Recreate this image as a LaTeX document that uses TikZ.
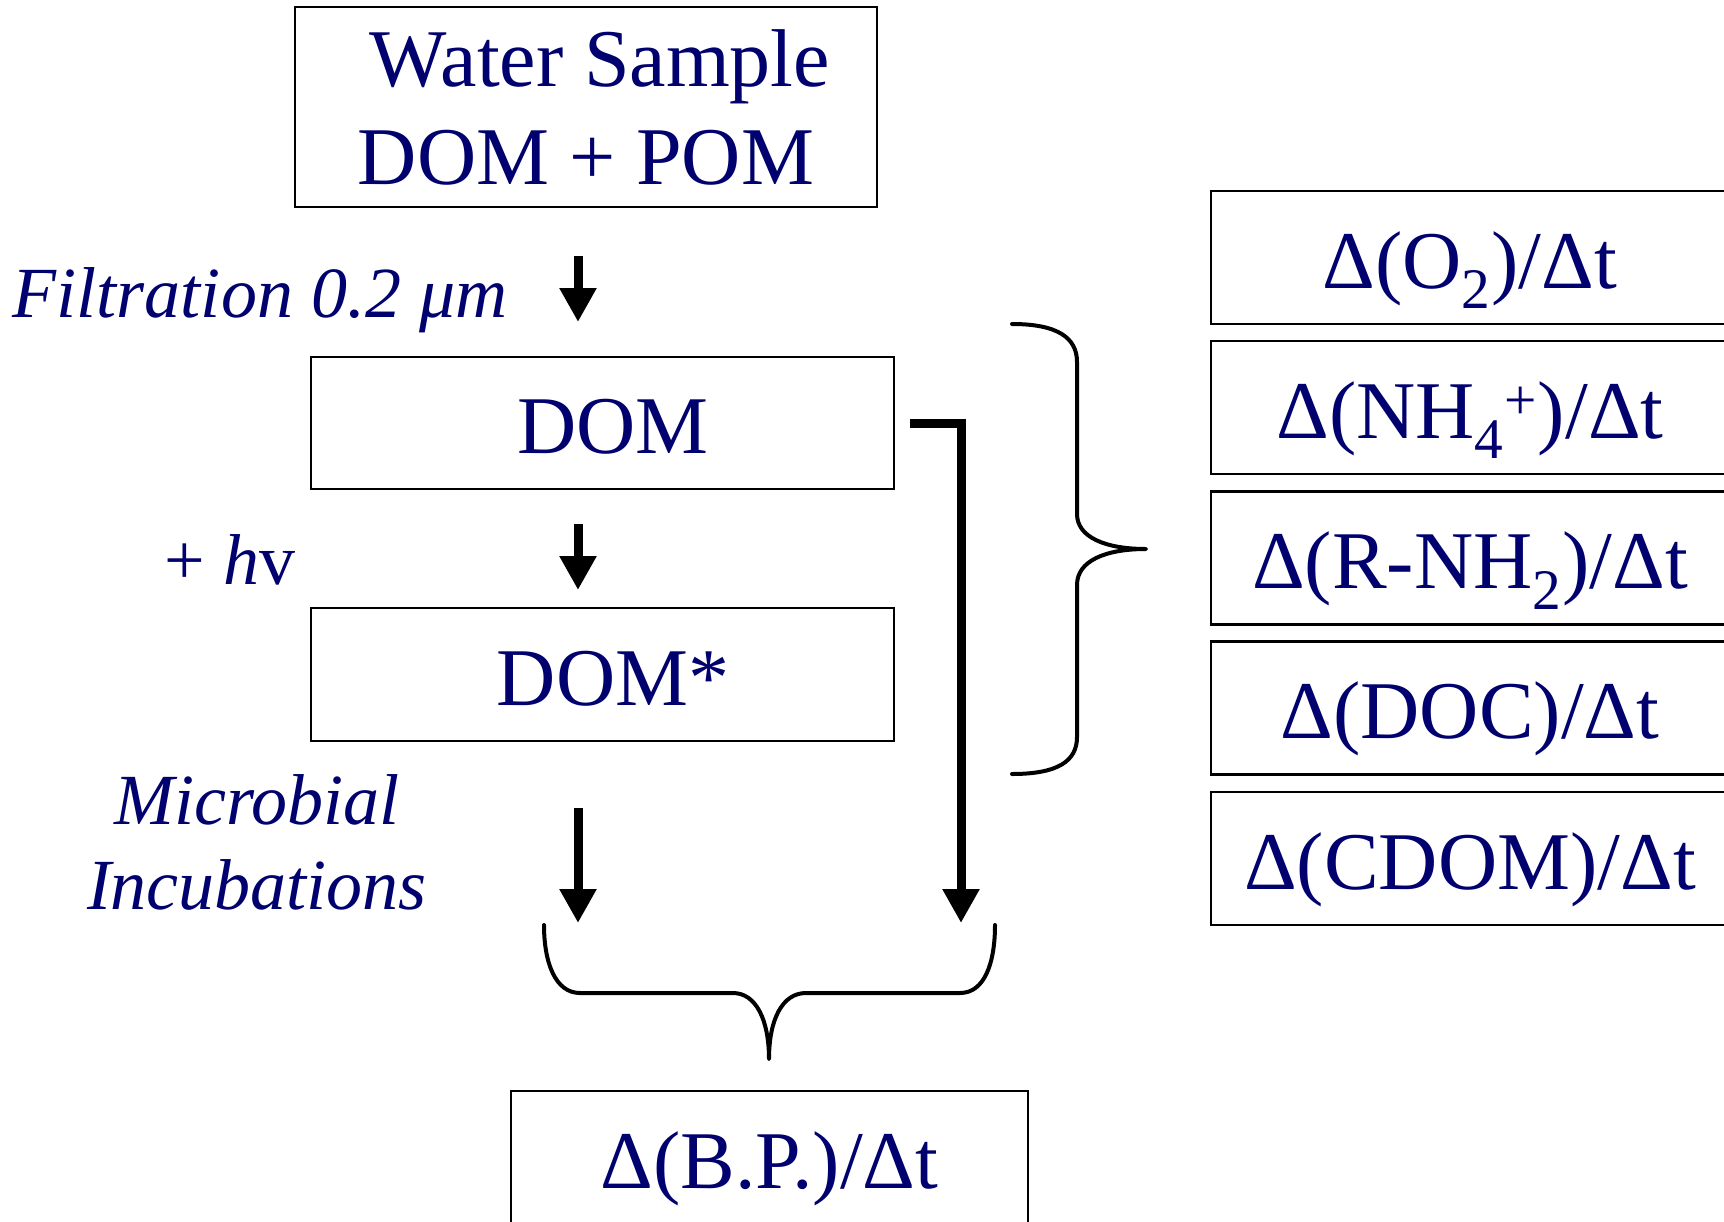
\documentclass[tikz,border=0pt]{standalone}
\usepackage{fontspec}
\setmainfont{Liberation Serif}
\usetikzlibrary{arrows.meta}
\definecolor{navy}{RGB}{0,0,110}
\begin{document}
\begin{tikzpicture}[x=0.5pt,y=-0.5pt,
  box/.style={draw, line width=1.1pt, inner sep=0pt, text=navy, font=\fontsize{41}{49}\selectfont, align=center},
  onebox/.style={box, text height=30.5pt, text depth=0pt},
  lbl/.style={text=navy, font=\fontsize{36}{42.5}\selectfont\itshape, align=center, inner sep=0pt},
  flow/.style={line width=4.5pt, -{Triangle[width=17.5pt,length=17pt]}},
  brace/.style={line width=2pt, line cap=round, line join=round}]
\useasboundingbox (0,0) rectangle (1724,1221);

% left column boxes
\node[box, minimum width=291pt, minimum height=100pt] (ws) at (586,107) {\raisebox{-2pt}{\hspace*{14pt}Water Sample}\\\raisebox{-2pt}{DOM + POM}};
\node[onebox, minimum width=291.5pt, minimum height=66pt] (dom) at (602.5,423) {\hspace*{10.5pt}DOM};
\node[onebox, minimum width=291.5pt, minimum height=66.5pt] (doms) at (602.5,674.5) {\hspace*{10.5pt}DOM*};
\node[onebox, text height=28.5pt, minimum width=258.5pt, minimum height=69pt] (bp) at (769.5,1160) {Δ(B.P.)/Δt};

% right column boxes
\node[onebox, minimum width=259pt, minimum height=66.5pt] (o2) at (1470,257.5) {Δ(O\textsubscript{2})/Δt};
\node[onebox, minimum width=259pt, minimum height=66.5pt] (nh4) at (1470,407.5) {Δ(NH\textsubscript{4}\textsuperscript{+})/Δt};
\node[onebox, minimum width=259pt, minimum height=66.5pt] (rnh2) at (1470,558) {Δ(R-NH\textsubscript{2})/Δt};
\node[onebox, minimum width=259pt, minimum height=66.5pt] (doc) at (1470,708) {Δ(DOC)/Δt};
\node[onebox, minimum width=259pt, minimum height=66.5pt] (cdom) at (1470,858.5) {Δ(CDOM)/Δt};

% labels
\node[lbl, anchor=base] (filt) at (260,317) {Filtration 0.2 μm};
\node[lbl, anchor=base] (hv) at (230,584) {\upshape + \textit{h}v};
\node[lbl, anchor=base] (micro) at (257,909) {Microbial\\Incubations};

% arrows
\coordinate (a1s) at (578,256);
\coordinate (a1e) at (578,322);
\coordinate (a2s) at (578,524);
\coordinate (a2e) at (578,590);
\coordinate (a3s) at (578,808);
\coordinate (a3e) at (578,923);
\coordinate (c1) at (910,423);
\coordinate (c2) at (961,923);
\draw[flow] (a1s) -- (a1e);
\draw[flow] (a2s) -- (a2e);
\draw[flow] (a3s) -- (a3e);
\draw[flow] (c1) -| (c2);

% right brace
\draw[brace] (1012,324) .. controls (1058,324) and (1077,338) .. (1077,362)
  -- (1077,514) .. controls (1077,537) and (1105,549) .. (1146,549)
  .. controls (1105,549) and (1077,561) .. (1077,585)
  -- (1077,737) .. controls (1077,761) and (1058,774) .. (1012,774);

% bottom brace
\draw[brace] (544,925) .. controls (544,962) and (555,993) .. (580,993)
  -- (733,993) .. controls (756,993) and (769,1020) .. (769,1059)
  .. controls (769,1020) and (782,993) .. (806,993)
  -- (960,993) .. controls (985,993) and (995,962) .. (995,925);
\end{tikzpicture}
\end{document}
